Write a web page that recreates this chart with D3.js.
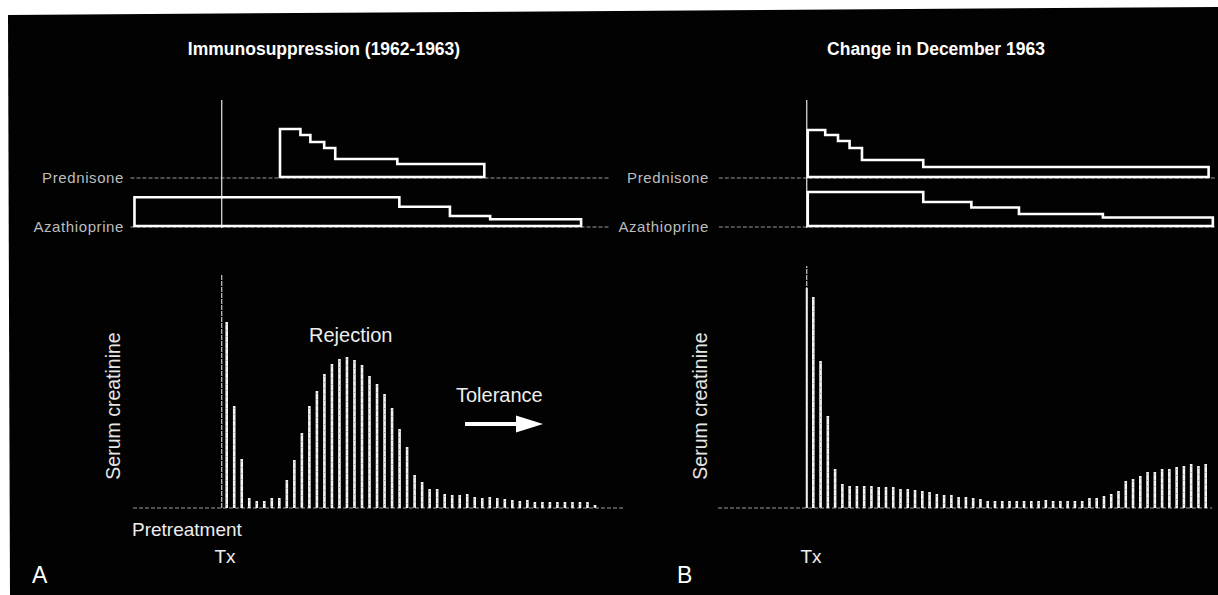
<!DOCTYPE html>
<html><head><meta charset="utf-8">
<script src="https://cdn.jsdelivr.net/npm/d3@7"></script>
<style>html,body{margin:0;padding:0;background:#fff;}svg{display:block;}</style>
</head><body>
<svg id="c" width="1218" height="595"></svg>
<script>
// ---------- DATA ----------
const panelLetters = ["A", "B"];
const titles = ["Immunosuppression (1962-1963)", "Change in December 1963"];
const drugNames = ["Prednisone", "Azathioprine"];
// Serum creatinine (relative units), one bar per measurement after Tx
const creatinineA = [186,102,49,10,7,7,10,10,28,48,75,102,117,134,144,149,151,148,143,132,
  124,114,100,79,61,33,26,19,19,14,13,13,14,11,10,11,10,9,8,7,8,6,6,6,6,6,6,6,6,3];
const creatinineB = [211,147,92,39,24,22,22,22,22,21,21,21,19,19,18,17,16,14,13,13,
  11,11,10,9,7,7,7,7,7,7,7,7,8,7,7,7,7,7,10,10,12,14,17,27,29,32,36,36,39,39,41,42,44,42,44];
// Tx time (in measurement index units) and Tx marker height
const txIndexA = -0.66, txIndexB = -0.9;
const txMarkA = 233, txMarkB = 242, txBarB = 220;
// Dose schedules: boundaries (index units) and dose levels (relative)
const predBoundsA = [7.09, 9.81, 11.13, 12.97, 14.44, 22.7, 34.27];
const predLevelsA = [48, 42, 35, 29, 18, 13];
const azaBoundsA = [-12.27, 22.97, 29.7, 35.05, 47.15];
const azaLevelsA = [28.7, 19.3, 10, 6.7];
const predBoundsB = [-0.76, 1.64, 3.4, 4.99, 6.7, 15.13, 54.4];
const predLevelsB = [47, 42, 36, 29, 17, 10];
const azaBoundsB = [-0.76, 15.13, 21.75, 28.3, 39.85, 54.98];
const azaLevelsB = [34, 24, 18.5, 12, 8.5];
const pretreatBoundsA = [-12.8, 50.8];
const pretreatBoundsB = [-13, 55.5];

// ---------- DRAW ----------
const svg = d3.select("#c");
svg.append("polygon").attr("points", "8,15 1218,7 1218,595 10,595").attr("fill", "#020202");

const FONT = "'Liberation Sans', Arial, sans-serif";
const yCre = d3.scaleLinear().domain([0, 250]).range([508, 258]);
const yPred = d3.scaleLinear().domain([0, 48]).range([177, 129]);
const yAza = d3.scaleLinear().domain([0, 35]).range([226, 191]);

const panels = [
  {x: d3.scaleLinear().domain([0, 49]).range([226.7, 595]), cre: creatinineA, tx: txIndexA, txMark: txMarkA, txBar: null,
   pb: predBoundsA, pl: predLevelsA, ab: azaBoundsA, al: azaLevelsA, pre: pretreatBoundsA,
   title: titles[0], titleX: 324, labelRight: 124, creX: 120, baseL: 133, baseR: 625, letter: panelLetters[0], letterX: 32, txLabelX: 225},
  {x: d3.scaleLinear().domain([0, 54]).range([813.3, 1205.7]), cre: creatinineB, tx: txIndexB, txMark: txMarkB, txBar: txBarB,
   pb: predBoundsB, pl: predLevelsB, ab: azaBoundsB, al: azaLevelsB, pre: pretreatBoundsB,
   title: titles[1], titleX: 936, labelRight: 709, creX: 707, baseL: 718, baseR: 1212, letter: panelLetters[1], letterX: 677, txLabelX: 811}
];

function stepPath(x, y, bounds, levels) {
  const pts = [[bounds[0], 0]];
  levels.forEach((l, i) => pts.push([bounds[i], l]));
  pts.push([bounds[bounds.length - 1], levels[levels.length - 1]]);
  pts.push([bounds[bounds.length - 1], 0]);
  return d3.line().x(d => x(d[0])).y(d => y(d[1])).curve(d3.curveStepAfter)(pts) + "Z";
}

panels.forEach(p => {
  const g = svg.append("g");
  const x = p.x;
  // title
  g.append("text").attr("x", p.titleX).attr("y", 55).attr("text-anchor", "middle")
    .attr("font-family", "'Liberation Sans Narrow', 'Liberation Sans', Arial, sans-serif")
    .attr("font-weight", "bold").attr("font-size", 17.5).attr("fill", "#fff").text(p.title);
  // dotted baselines of drug rows
  [[yPred(0) + 1, drugNames[0]], [yAza(0) + 1, drugNames[1]]].forEach(([yy, name]) => {
    g.append("line").attr("x1", x(p.pre[0])).attr("x2", x(p.pre[1])).attr("y1", yy).attr("y2", yy)
      .attr("stroke", "#9a9a9a").attr("stroke-width", 1).attr("stroke-dasharray", "4,2");
    g.append("text").attr("x", p.labelRight).attr("y", yy + 5).attr("text-anchor", "end")
      .attr("font-family", FONT).attr("font-size", 15).attr("letter-spacing", 0.6)
      .attr("fill", "#bdbdbd").text(name);
  });
  // Tx line (drug section)
  g.append("line").attr("x1", x(p.tx)).attr("x2", x(p.tx)).attr("y1", 100).attr("y2", 228)
    .attr("stroke", "#e8e8e8").attr("stroke-width", 1.2);
  // drug step boxes
  g.append("path").attr("d", stepPath(x, yPred, p.pb, p.pl)).attr("fill", "none")
    .attr("stroke", "#fff").attr("stroke-width", 2.6);
  g.append("path").attr("d", stepPath(x, yAza, p.ab, p.al)).attr("fill", "none")
    .attr("stroke", "#fff").attr("stroke-width", 2.6);
  // creatinine baseline
  g.append("line").attr("x1", p.baseL).attr("x2", p.baseR).attr("y1", yCre(0)).attr("y2", yCre(0))
    .attr("stroke", "#9a9a9a").attr("stroke-width", 1).attr("stroke-dasharray", "4,2");
  // Tx marker in creatinine section
  g.append("line").attr("x1", x(p.tx)).attr("x2", x(p.tx)).attr("y1", yCre(0)).attr("y2", yCre(p.txMark))
    .attr("stroke", "#dcdcdc").attr("stroke-width", 1.1).attr("stroke-dasharray", "5,1");
  if (p.txBar) {
    g.append("rect").attr("x", x(p.tx) - 1).attr("width", 2).attr("y", yCre(p.txBar))
      .attr("height", yCre(0) - yCre(p.txBar)).attr("fill", "#f0f0f0");
  }
  // bars
  g.selectAll("rect.bar").data(p.cre).join("rect").attr("class", "bar")
    .attr("x", (d, i) => x(i) - 1.3).attr("width", 2.6)
    .attr("y", d => yCre(d)).attr("height", d => yCre(0) - yCre(d))
    .attr("fill", "#f4f4f4");
  // stipple texture over bars
  g.selectAll("line.st").data(p.cre).join("line").attr("class", "st")
    .attr("x1", (d, i) => x(i)).attr("x2", (d, i) => x(i))
    .attr("y1", d => yCre(d) + 2).attr("y2", yCre(0))
    .attr("stroke", "#000").attr("stroke-width", 0.8).attr("stroke-opacity", 0.45)
    .attr("stroke-dasharray", "1,5");
  // y label
  g.append("text").attr("transform", `translate(${p.creX},406) rotate(-90)`).attr("text-anchor", "middle")
    .attr("font-family", FONT).attr("font-size", 19.5).attr("fill", "#e6e6e6").text("Serum creatinine");
  // Tx label
  g.append("text").attr("x", p.txLabelX).attr("y", 563).attr("text-anchor", "middle")
    .attr("font-family", FONT).attr("font-size", 19).attr("fill", "#eee").text("Tx");
  // panel letter
  g.append("text").attr("x", p.letterX).attr("y", 583).attr("font-family", FONT)
    .attr("font-size", 23).attr("fill", "#fff").text(p.letter);
});

// annotations panel A
svg.append("text").attr("x", 309).attr("y", 342).attr("font-family", FONT).attr("font-size", 20)
  .attr("fill", "#eee").text("Rejection");
svg.append("text").attr("x", 456).attr("y", 402).attr("font-family", FONT).attr("font-size", 20)
  .attr("fill", "#eee").text("Tolerance");
svg.append("text").attr("x", 132).attr("y", 536).attr("font-family", FONT).attr("font-size", 19)
  .attr("fill", "#eee").text("Pretreatment");
svg.append("line").attr("x1", 465).attr("x2", 518).attr("y1", 424).attr("y2", 424)
  .attr("stroke", "#fff").attr("stroke-width", 4);
svg.append("path").attr("d", "M516,415.5 L543,424 L516,432.5 Z").attr("fill", "#fff");
</script>
</body></html>
